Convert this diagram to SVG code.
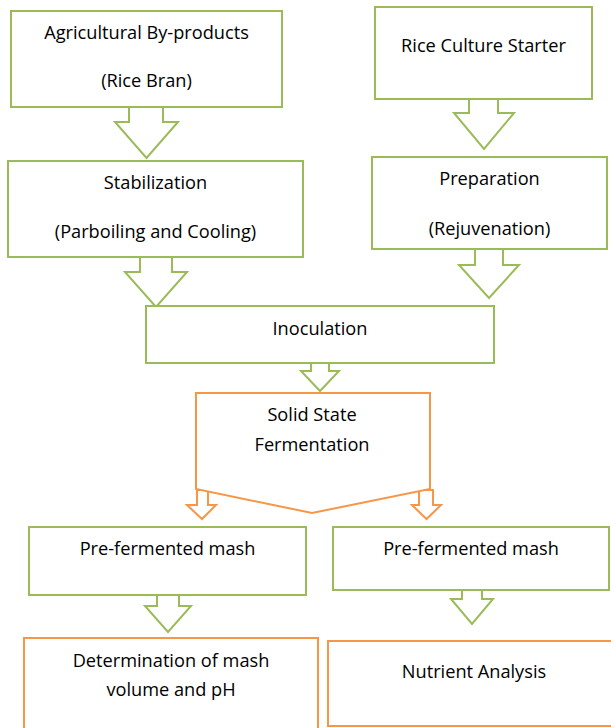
<svg xmlns="http://www.w3.org/2000/svg" width="611" height="728" viewBox="0 0 611 728">
<style>
.g{fill:#fff;stroke:#9BBB59;stroke-width:2}
.o{fill:#fff;stroke:#F79646;stroke-width:2}
text{font-family:"Open Sans","Liberation Sans",sans-serif;font-size:18.2px;fill:#000;text-anchor:middle}
</style>
<rect width="611" height="728" fill="#fff"/>
<g id="connectors">
<polygon class="g" points="129,107 163,107 163,122 178,122 146.5,158 115,122 129,122"/>
<polygon class="g" points="140,257 172,257 172,272 187,272 156,307 125,272 140,272"/>
<polygon class="g" points="469,99 498,99 498,113 514,113 484,149 454,113 469,113"/>
<polygon class="g" points="475,249 503,249 503,265 519,265 489,298 459,265 475,265"/>
<polygon class="g" points="311,363 329,363 329,371 339,371 320,391 301,371 311,371"/>
<polygon class="o" points="197,490 208,490 208,505 216,505 202,519 187,505 197,505"/>
<polygon class="o" points="419,490 433,490 433,505 441,505 426.5,519 412,505 419,505"/>
<polygon class="g" points="157,595 179,595 179,606 191,606 168,632 145,606 157,606"/>
<polygon class="g" points="462,590 482,590 482,599 493,599 472,624 451,599 462,599"/>
</g>
<g id="n1"><rect class="g" x="11" y="11" width="271" height="96"/><text x="146.5" y="39">Agricultural By-products</text><text x="146.5" y="87">(Rice Bran)</text></g>
<g id="n2"><rect class="g" x="8" y="161" width="295" height="96"/><text x="155.5" y="189">Stabilization</text><text x="155.5" y="238">(Parboiling and Cooling)</text></g>
<g id="n3"><rect class="g" x="375" y="7" width="217" height="92"/><text x="483.5" y="52">Rice Culture Starter</text></g>
<g id="n4"><rect class="g" x="372" y="157" width="235" height="92"/><text x="489.5" y="185">Preparation</text><text x="489.5" y="235">(Rejuvenation)</text></g>
<g id="n5"><rect class="g" x="146" y="306" width="348" height="57"/><text x="320" y="335">Inoculation</text></g>
<g id="n6"><polygon class="o" points="196,393 430,393 430,489 312,513 196,489"/><text x="312" y="421">Solid State</text><text x="312" y="451">Fermentation</text></g>
<g id="n7"><rect class="g" x="29" y="527" width="277" height="68"/><text x="167.5" y="555">Pre-fermented mash</text></g>
<g id="n8"><rect class="g" x="333" y="527" width="276" height="63"/><text x="471" y="555">Pre-fermented mash</text></g>
<g id="n9"><rect class="o" x="24" y="638" width="294" height="110"/><text x="171" y="667">Determination of mash</text><text x="171" y="696">volume and pH</text></g>
<g id="n10"><rect class="o" x="328" y="641" width="290" height="85"/><text x="474" y="678">Nutrient Analysis</text></g>
</svg>
